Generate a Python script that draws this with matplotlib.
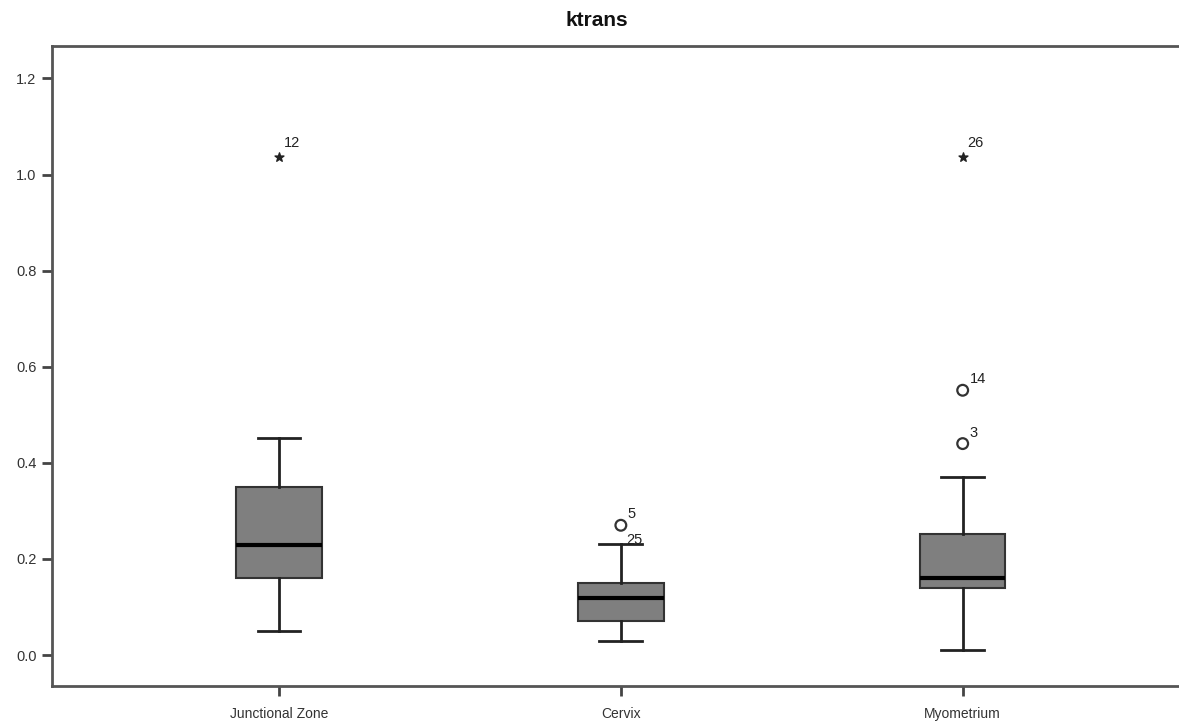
import matplotlib
matplotlib.use('Agg')
import matplotlib.pyplot as plt
from matplotlib.ticker import FormatStrFormatter

plt.rcParams['font.family'] = ['Liberation Sans', 'DejaVu Sans']

# box summary values
groups = ['Junctional Zone', 'Cervix', 'Myometrium']
whis_lo = [0.05, 0.03, 0.01]
q1 = [0.161, 0.071, 0.140]
median = [0.229, 0.119, 0.160]
q3 = [0.350, 0.149, 0.251]
whis_hi = [0.451, 0.232, 0.370]

# outliers (circle) and extremes (star) with their case numbers
circ_group = [2, 3, 3]
circ_value = [0.27, 0.44, 0.551]
circ_label = ['5', '3', '14']
star_group = [1, 3]
star_value = [1.037, 1.037]
star_label = ['12', '26']
# case label that sits on the whisker end with no marker
extra_group = [2]
extra_value = [0.232]
extra_label = ['25']

fig = plt.figure(figsize=(11.79, 7.22), dpi=100)
ax = fig.add_axes([51.7 / 1179, 36 / 722, (1190 - 51.7) / 1179, 640 / 722])

stats = []
for i, g in enumerate(groups):
    stats.append({'label': g, 'whislo': whis_lo[i], 'q1': q1[i], 'med': median[i],
                  'q3': q3[i], 'whishi': whis_hi[i], 'fliers': []})

ax.bxp(stats, positions=[1, 2, 3], widths=0.25, capwidths=0.125,
       showfliers=False, patch_artist=True,
       boxprops=dict(facecolor='#7f7f7f', edgecolor='#333333', linewidth=1.5),
       medianprops=dict(color='black', linewidth=3),
       whiskerprops=dict(color='#222222', linewidth=2),
       capprops=dict(color='#222222', linewidth=2))

ax.scatter(circ_group, circ_value, s=60, facecolors='none', edgecolors='#333333',
           linewidths=1.6, zorder=3)
ax.scatter(star_group, star_value, s=45, marker='*', color='#222222', zorder=3)

for x, y, t in zip(circ_group, circ_value, circ_label):
    ax.annotate(t, (x, y), xytext=(5, 5), textcoords='offset points',
                fontsize=10.5, color='#222222', va='baseline')
for x, y, t in zip(star_group, star_value, star_label):
    ax.annotate(t, (x, y), xytext=(3.5, 7), textcoords='offset points',
                fontsize=10.5, color='#222222', va='baseline')
for x, y, t in zip(extra_group, extra_value, extra_label):
    ax.annotate(t, (x, y), xytext=(4, 0), textcoords='offset points',
                fontsize=10.5, color='#222222', va='baseline')

ax.set_xlim(0.335, 3.665)
ax.set_ylim(-0.0645, 1.2675)
ax.set_yticks([0.0, 0.2, 0.4, 0.6, 0.8, 1.0, 1.2])
ax.yaxis.set_major_formatter(FormatStrFormatter('%.1f'))
ax.set_xticks([1, 2, 3])
ax.set_xticklabels(groups)

for side in ['left', 'top', 'bottom']:
    ax.spines[side].set_color('#555555')
    ax.spines[side].set_linewidth(2)
ax.spines['right'].set_visible(False)
ax.tick_params(axis='both', length=7, width=2, color='#444444', labelsize=10.5,
               labelcolor='#333333', pad=4)
ax.tick_params(axis='x', labelsize=10, pad=8)

fig.text(597 / 1179, 1 - 21 / 722, 'ktrans', ha='center', va='center',
         fontsize=15, fontweight='bold', color='#111111')

fig.savefig('out.png', dpi=100)
